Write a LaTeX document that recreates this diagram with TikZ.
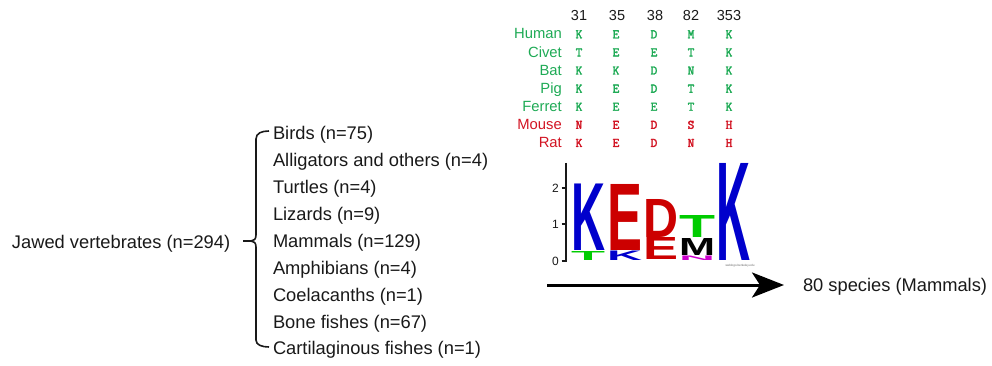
\documentclass[tikz,border=0pt]{standalone}
\usepackage{fontspec}
\usepackage{graphicx}
\setmainfont{Liberation Sans}
\newfontfamily\monof[FakeBold=2.5]{Latin Modern Mono}
\usetikzlibrary{arrows.meta}
\definecolor{sgreen}{RGB}{30,170,85}
\definecolor{sred}{RGB}{210,20,35}
\definecolor{lblue}{RGB}{0,0,204}
\definecolor{lred}{RGB}{204,0,0}
\definecolor{lgreen}{RGB}{0,204,0}
\definecolor{lmag}{RGB}{204,0,204}
\definecolor{txt}{RGB}{25,25,25}
\tikzset{
  big/.style={inner sep=0pt, outer sep=0pt, anchor=base west, text=txt, font=\fontsize{18.3}{22}\selectfont},
  lbl/.style={inner sep=0pt, anchor=base east, font=\fontsize{14.8}{17}\selectfont},
  hdr/.style={inner sep=0pt, anchor=base, text=txt, font=\fontsize{14.5}{17}\selectfont},
  aa/.style={inner sep=0pt, anchor=base, font=\monof\bfseries\fontsize{13}{15}\selectfont},
  logo/.style={inner sep=0pt, outer sep=0pt, anchor=south west},
  axisln/.style={line width=1.5pt, draw=txt},
  ticklbl/.style={inner sep=0pt, anchor=east, text=txt, font=\fontsize{12}{14}\selectfont},
  bracel/.style={line width=1.6pt, draw=txt, line join=round},
}
\newcommand\logoglyph[4]{\resizebox{#1pt}{#2pt}{\textcolor{#3}{\bfseries #4}}}
\begin{document}
\begin{tikzpicture}[x=1pt,y=-1pt]
\useasboundingbox (0,0) rectangle (992,366);
% left label
\node[big] (jawed) at (12,248) {Jawed vertebrates (n=294)};
\coordinate (jt) at (243,241);
\coordinate (bmid) at (251,241);
\draw[bracel] (jt) -- (bmid);
\draw[bracel] (269,131) .. controls (262,131) and (256,133) .. (256,139) -- (256,235)
  .. controls (256,239) and (254,241) .. (bmid)
  .. controls (254,241) and (256,243) .. (256,247) -- (256,340)
  .. controls (256,345) and (262,347) .. (269,347);
% list
\foreach \t [count=\i from 0] in {Birds (n=75),Alligators and others (n=4),Turtles (n=4),Lizards (n=9),Mammals (n=129),Amphibians (n=4),Coelacanths (n=1),Bone fishes (n=67),Cartilaginous fishes (n=1)}
  \node[big] (grp\i) at (273,{139.3+26.96*\i}) {\t};
% headers
\foreach \h/\x [count=\j] in {31/579,35/617,38/655,82/691,353/729}
  \node[hdr] (hd\j) at (\x,20.7) {\h};
% alignment rows
\foreach \nm/\a/\b/\c/\d/\e/\col [count=\i from 0] in {Human/K/E/D/M/K/sgreen,Civet/T/E/E/T/K/sgreen,Bat/K/K/D/N/K/sgreen,Pig/K/E/D/T/K/sgreen,Ferret/K/E/E/T/K/sgreen,Mouse/N/E/D/S/H/sred,Rat/K/E/D/N/H/sred}{
  \node[lbl, text=\col] (lab\i) at (562,{39+18.1*\i}) {\nm};
  \node[aa, text=\col] (r\i a) at (579,{38.3+18.1*\i}) {\a};
  \node[aa, text=\col] (r\i b) at (616,{38.3+18.1*\i}) {\b};
  \node[aa, text=\col] (r\i c) at (654,{38.3+18.1*\i}) {\c};
  \node[aa, text=\col] (r\i d) at (691,{38.3+18.1*\i}) {\d};
  \node[aa, text=\col] (r\i e) at (729,{38.3+18.1*\i}) {\e};
}
% logo axis
\draw[axisln] (566,163) -- (566,262);
\foreach \v/\y in {2/188,1/224,0/261}{
  \draw[axisln] (561.5,\y) -- (566,\y);
  \node[ticklbl] (tk\v) at (559,\y) {\v};
}
% logo letters
\node[logo] (c1K) at (571,250.5) {\logoglyph{34}{66.5}{lblue}{K}};
\node[logo] (c1T) at (571,260) {\logoglyph{34}{9}{lgreen}{T}};
\node[logo] (c2E) at (607,250) {\logoglyph{35}{66}{lred}{E}};
\node[logo] (c2K) at (607,260) {\logoglyph{35}{9.5}{lblue}{K}};
\node[logo] (c3D) at (643,237) {\logoglyph{35}{38}{lred}{D}};
\node[logo] (c3E) at (643,259.5) {\logoglyph{35}{22}{lred}{E}};
\node[logo] (c4T) at (679,237) {\logoglyph{36}{22}{lgreen}{T}};
\node[logo] (c4M) at (679,255) {\logoglyph{36}{17}{black}{M}};
\node[logo] (c4N) at (679,260) {\logoglyph{36}{4.5}{lmag}{N}};
\node[logo] (c5K) at (716,260) {\logoglyph{34}{97}{lblue}{K}};
\node[inner sep=0pt, anchor=center, text=black!60, font=\fontsize{3}{3}\selectfont] (wl) at (740,266) {weblogo.berkeley.edu};
% arrow
\coordinate (as) at (547,285);
\coordinate (ae) at (784,285);
\draw[line width=3pt, draw=black, -{Stealth[length=32pt, width=25pt, inset=8pt]}] (as) -- (ae);
\node[big, anchor=base west] (sp) at (803,291.5) {80 species (Mammals)};
\end{tikzpicture}
\end{document}
